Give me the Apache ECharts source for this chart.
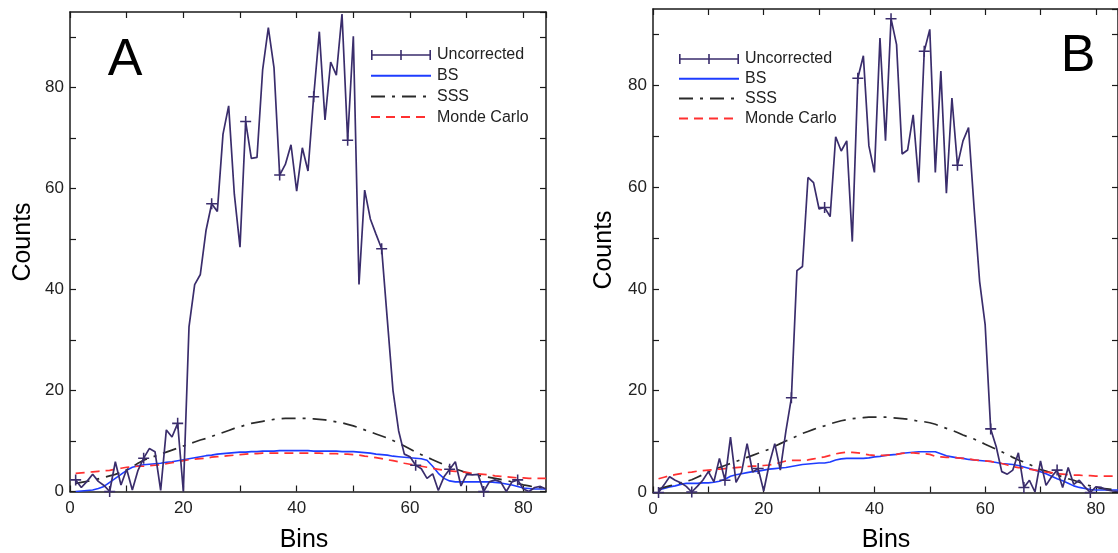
<!DOCTYPE html>
<html><head><meta charset="utf-8">
<script src="https://cdn.jsdelivr.net/npm/echarts@6/dist/echarts.min.js"></script>
<style>html,body{margin:0;padding:0;background:#fff}#c{width:1118px;height:553px}</style>
</head><body><div id="c"></div>
<script>
const bins = [1,2,3,4,5,6,7,8,9,10,11,12,13,14,15,16,17,18,19,20,21,22,23,24,25,26,27,28,29,30,31,32,33,34,35,36,37,38,39,40,41,42,43,44,45,46,47,48,49,50,51,52,53,54,55,56,57,58,59,60,61,62,63,64,65,66,67,68,69,70,71,72,73,74,75,76,77,78,79,80,81,82,83,84];
const xTickLabels = [0, 20, 40, 60, 80];
const yTickLabels = [0, 20, 40, 60, 80];
const seriesNames = ['Uncorrected', 'BS', 'SSS', 'Monde Carlo'];

// Panel A
const uncorrectedA = [2.3,0.8,2.0,3.4,2.0,1.2,0,5.9,1.3,4.4,0.3,4.2,6.6,8.5,7.9,0.2,12.2,10.8,13.5,0,32.6,41,43,51.7,57,55.5,70.8,76.4,58.9,48.4,73.3,66,66.2,83.6,91.9,84,62.7,64.8,68.7,59.5,68.1,63.5,78.2,91.1,73.6,85.1,82.5,94.6,69.6,90.2,41,59.7,54,51,48.1,34,20,12,7.4,6.9,5.2,4.5,2.6,3.5,0.2,2.9,4.4,5.9,1.1,3.4,3.3,3.4,0,1.9,2.3,1.9,0,1.9,2.3,0.5,0,0.8,1,0.5];
const bsA = [0,0.1,0.2,0.3,0.6,1.0,1.8,2.6,3.4,4.2,4.8,5.1,5.3,5.4,5.5,5.6,5.8,5.9,6.1,6.3,6.5,6.7,6.9,7.1,7.2,7.4,7.5,7.6,7.7,7.8,7.8,7.9,7.9,8.0,8.0,8.0,8.1,8.1,8.1,8.1,8.1,8.1,8.0,8.0,8.0,8.0,8.0,7.9,7.9,7.9,7.8,7.7,7.6,7.4,7.3,7.2,7.0,6.9,6.8,6.7,6.6,6.5,6.2,5.0,3.6,2.6,2.1,1.9,1.9,1.9,1.9,1.9,1.9,1.9,1.8,1.7,1.5,1.3,1.0,0.7,0.6,0.5,0.5,0.5];
const sssA = [1.6,1.8,2.0,2.2,2.5,2.8,3.1,3.4,3.8,4.3,4.9,5.6,6.2,6.6,7.0,7.4,7.8,8.2,8.6,9.0,9.4,9.8,10.2,10.5,10.9,11.3,11.7,12.1,12.5,12.8,13.2,13.5,13.7,13.9,14.1,14.3,14.4,14.5,14.5,14.5,14.5,14.5,14.4,14.3,14.2,14.0,13.8,13.6,13.3,13.0,12.6,12.2,11.8,11.4,11.0,10.6,10.1,9.6,9.0,8.4,7.8,7.3,6.8,6.3,5.8,5.3,4.9,4.5,4.1,3.7,3.4,3.2,3.0,2.8,2.6,2.4,2.2,1.9,1.6,1.3,1.1,0.9,0.8,0.7];
const mcA = [3.6,3.7,3.8,3.9,4.0,4.1,4.2,4.4,4.6,4.8,4.9,5.0,5.0,5.1,5.2,5.3,5.5,5.7,5.9,6.1,6.3,6.4,6.5,6.6,6.8,6.9,7.0,7.1,7.2,7.3,7.4,7.5,7.5,7.6,7.6,7.6,7.6,7.6,7.6,7.6,7.6,7.6,7.6,7.6,7.5,7.5,7.5,7.4,7.4,7.3,7.2,7.0,6.9,6.7,6.5,6.3,6.1,5.9,5.6,5.4,5.2,5.0,4.8,4.6,4.4,4.2,4.1,4.0,3.9,3.8,3.6,3.5,3.4,3.3,3.1,3.0,2.9,2.8,2.7,2.7,2.6,2.6,2.6,2.6];

// Panel B
const uncorrectedB = [0,1.5,3.1,2.4,1.9,1.2,0.1,1.2,2.4,4.1,2.1,6.7,2.4,10.9,2.0,4.0,9.6,4.0,4.7,0.3,5.6,9.6,4.4,12.0,18.6,43.6,44.4,61.9,60.9,55.7,56,54.2,69.9,67.1,69.1,49.3,81.4,85.8,68.1,62.9,89.3,69.1,93.1,88,66.5,67.3,74.2,60.9,86.7,91,62.9,82.8,58.8,77.5,64.3,69.1,71.7,56,41.5,33,12.5,9,4.1,3.6,4.4,7.8,1,2.4,0.1,6.2,1.4,3.1,4.4,1,4.9,1.6,2.4,1.1,0,1.1,1,0.5,0.3,0.2];
const bsB = [0.5,0.8,1.1,1.3,1.6,1.8,1.8,1.8,1.9,1.9,2.0,2.2,2.6,3.2,3.5,3.7,3.9,4.1,4.2,4.4,4.6,4.7,4.8,4.9,5.1,5.3,5.5,5.6,5.7,5.8,5.8,6.0,6.4,6.6,6.7,6.7,6.7,6.7,6.8,7.0,7.1,7.3,7.4,7.5,7.7,7.8,7.9,8.0,8.0,8.0,8.0,7.6,7.2,7.0,6.8,6.7,6.5,6.4,6.3,6.2,6.1,5.9,5.7,5.6,5.5,5.3,5.0,4.7,4.4,4.1,3.7,3.2,2.7,2.3,1.8,1.3,1.0,0.8,0.6,0.5,0.5,0.5,0.5,0.5];
const sssB = [0.7,1.0,1.3,1.6,1.9,2.2,2.5,3.0,3.5,4.0,4.5,4.9,5.3,5.7,6.1,6.5,6.9,7.3,7.7,8.1,8.5,9.1,9.6,10.1,10.6,11.1,11.6,12.0,12.4,12.8,13.1,13.5,13.8,14.1,14.3,14.5,14.6,14.7,14.8,14.8,14.8,14.8,14.7,14.6,14.5,14.4,14.2,14.0,13.9,13.7,13.4,13.0,12.6,12.2,11.8,11.3,10.9,10.5,10.0,9.5,9.0,8.5,8.0,7.5,6.9,6.4,6.0,5.5,5.0,4.5,4.2,3.8,3.4,3.1,2.7,2.4,2.0,1.6,1.3,1.0,0.8,0.7,0.6,0.5];
const mcB = [2.7,3.0,3.3,3.5,3.7,3.9,4.0,4.2,4.3,4.4,4.5,4.6,4.7,4.8,4.9,5.0,5.1,5.2,5.2,5.3,5.4,5.6,5.9,6.2,6.3,6.3,6.3,6.4,6.6,6.8,7.0,7.3,7.6,7.8,7.9,7.9,7.8,7.6,7.4,7.3,7.3,7.3,7.4,7.5,7.7,7.8,7.8,7.7,7.6,7.5,7.1,7.0,6.9,6.9,6.8,6.7,6.6,6.4,6.3,6.2,6.1,5.9,5.7,5.4,5.1,4.9,4.8,4.6,4.4,4.2,4.0,3.9,3.7,3.6,3.5,3.4,3.4,3.3,3.3,3.2,3.2,3.2,3.2,3.2];

const FONT = '"Liberation Sans", Arial, sans-serif';
const AX = '#1a1a1a';
const C_UNC = '#3a2d6c', C_BS = '#1e3cff', C_SSS = '#2a2a2a', C_MC = '#ff3030';
const PLUS = 'path://M4.3,0H5.7V10H4.3Z M0,4.3H10V5.7H0Z';
const LEG_UNC = 'path://M0,4.2H60V5.8H0Z M0,0H1.6V10H0Z M29.2,0H30.8V10H29.2Z M58.4,0H60V10H58.4Z';

const grids = [
  {left: 70, top: 12, width: 476, height: 479.5},
  {left: 653, top: 9, width: 476, height: 483.5}
];

function pair(arr) { return bins.map((b, i) => [b, arr[i]]); }

const xAxes = [], yAxes = [];
grids.forEach((g, gi) => {
  const common = {gridIndex: gi, type: 'value', min: 0, max: 84, interval: 10,
    axisLine: {onZero: false, lineStyle: {color: AX, width: 1.5}},
    axisTick: {inside: true, length: 6, lineStyle: {color: AX, width: 1.2}},
    splitLine: {show: false}};
  xAxes.push(Object.assign({}, common, {position: 'bottom',
    axisLabel: {margin: 8, fontSize: 17, color: '#222', fontFamily: FONT, showMaxLabel: false,
      formatter: v => xTickLabels.includes(v) ? String(v) : ''}}));
  xAxes.push(Object.assign({}, common, {position: 'top', axisLabel: {show: false}}));
  const ycommon = {gridIndex: gi, type: 'value', min: 0, max: 95, interval: 10,
    axisLine: {show: true, onZero: false, lineStyle: {color: AX, width: 1.5}},
    axisTick: {show: true, inside: true, length: 6, lineStyle: {color: AX, width: 1.2}},
    splitLine: {show: false}};
  yAxes.push(Object.assign({}, ycommon, {position: 'left',
    axisLabel: {margin: 6, fontSize: 17, color: '#222', fontFamily: FONT, showMaxLabel: false,
      formatter: v => yTickLabels.includes(v) ? String(v) : ''}}));
  yAxes.push(Object.assign({}, ycommon, {position: 'right', axisLabel: {show: false}}));
});

function panelSeries(gi, unc, bs, sss, mc) {
  const base = {type: 'line', xAxisIndex: gi * 2, yAxisIndex: gi * 2, silent: true, animation: false};
  return [
    Object.assign({}, base, {name: seriesNames[1], data: pair(bs), symbol: 'none', z: 2,
      lineStyle: {color: C_BS, width: 1.6}, itemStyle: {color: C_BS}}),
    Object.assign({}, base, {name: seriesNames[2], data: pair(sss), symbol: 'none', z: 2,
      lineStyle: {color: C_SSS, width: 1.7, type: [14, 7, 3, 7]}, itemStyle: {color: C_SSS}}),
    Object.assign({}, base, {name: seriesNames[3], data: pair(mc), symbol: 'none', z: 2,
      lineStyle: {color: C_MC, width: 1.7, type: [9, 6]}, itemStyle: {color: C_MC}}),
    Object.assign({}, base, {name: seriesNames[0], data: pair(unc), z: 3,
      symbol: PLUS, showAllSymbol: true,
      symbolSize: (v, p) => (p.dataIndex % 6 === 0 ? 11 : 0),
      lineStyle: {color: C_UNC, width: 1.7}, itemStyle: {color: C_UNC}})
  ];
}

const hideSym = {opacity: 0};
const legendCommon = {orient: 'vertical', itemWidth: 60, itemHeight: 10, padding: 0,
  selectedMode: false, textStyle: {fontSize: 16, lineHeight: 16, color: '#222', fontFamily: FONT, padding: [0, 0, 0, 1]},
  data: [
    {name: 'Uncorrected', icon: LEG_UNC},
    {name: 'BS', itemStyle: hideSym},
    {name: 'SSS', itemStyle: hideSym},
    {name: 'Monde Carlo', itemStyle: hideSym}
  ]};

const chart = echarts.init(document.getElementById('c'), null, {renderer: 'canvas'});
chart.setOption({
  animation: false,
  backgroundColor: '#fff',
  grid: grids,
  xAxis: xAxes,
  yAxis: yAxes,
  legend: [
    Object.assign({}, legendCommon, {left: 370, top: 47, itemGap: 4.7}),
    Object.assign({}, legendCommon, {left: 678, top: 51, itemGap: 3.8})
  ],
  series: [].concat(panelSeries(0, uncorrectedA, bsA, sssA, mcA), panelSeries(1, uncorrectedB, bsB, sssB, mcB)),
  graphic: [
    {type: 'text', x: 125, y: 61, style: {text: 'A', font: '52px ' + FONT, fill: '#000', textAlign: 'center', textVerticalAlign: 'middle'}},
    {type: 'text', x: 1078, y: 57, style: {text: 'B', font: '52px ' + FONT, fill: '#000', textAlign: 'center', textVerticalAlign: 'middle'}},
    {type: 'text', x: 23, y: 242, rotation: Math.PI / 2, style: {text: 'Counts', font: '25px ' + FONT, fill: '#000', textAlign: 'center', textVerticalAlign: 'middle'}},
    {type: 'text', x: 604, y: 250, rotation: Math.PI / 2, style: {text: 'Counts', font: '25px ' + FONT, fill: '#000', textAlign: 'center', textVerticalAlign: 'middle'}},
    {type: 'text', x: 304, y: 540, style: {text: 'Bins', font: '25px ' + FONT, fill: '#000', textAlign: 'center', textVerticalAlign: 'middle'}},
    {type: 'text', x: 886, y: 540, style: {text: 'Bins', font: '25px ' + FONT, fill: '#000', textAlign: 'center', textVerticalAlign: 'middle'}}
  ]
});
</script>
</body></html>
